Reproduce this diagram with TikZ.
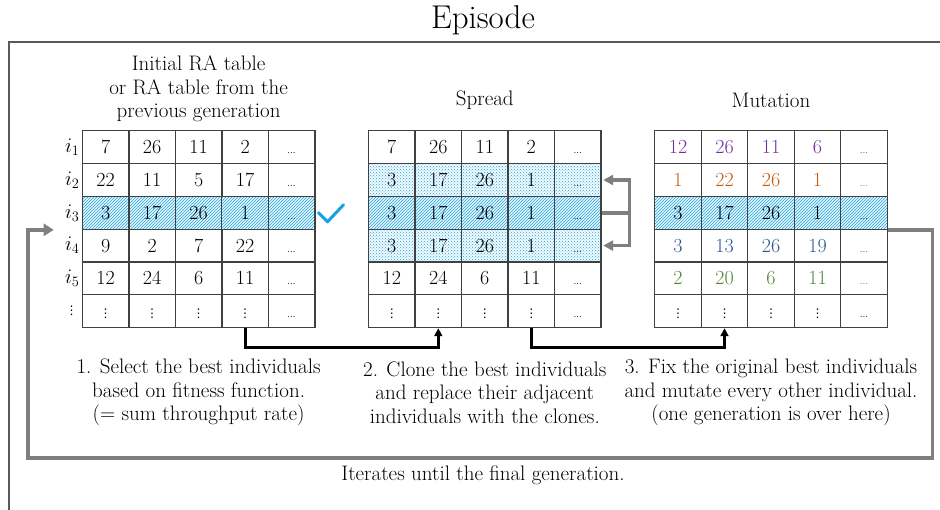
\documentclass[tikz,border=0pt]{standalone}
\usepackage{amsmath,amssymb}
\usepackage{fontspec}
\usepackage{tikz}
\usetikzlibrary{matrix,positioning,patterns,arrows.meta,calc}

\newfontfamily\symfont{DejaVu Sans}

\definecolor{frameGray}{HTML}{595959}
\definecolor{loopGray}{HTML}{7F7F7F}
\definecolor{cellLine}{HTML}{404040}
\definecolor{hatchBlue}{HTML}{1FA7E0}
\definecolor{tickBlue}{HTML}{17A2E8}
\definecolor{mutPurple}{HTML}{7030A0}
\definecolor{mutOrange}{HTML}{C55A11}
\definecolor{mutBlue}{HTML}{2F5597}
\definecolor{mutGreen}{HTML}{548235}

\newcommand{\tabfont}{\fontsize{20}{20}\selectfont}
\newcommand{\txtfont}{\fontsize{21}{23.5}\selectfont}
\newcommand{\moredots}{{\fontsize{10}{10}\selectfont ...}}
\newcommand{\downdots}{{\symfont\fontsize{12}{12}\selectfont ⋮}}

\begin{document}
\begin{tikzpicture}[x=1pt, y=-1pt,
    ratable/.style={matrix of nodes, inner sep=0pt,
      column sep=-1.3pt, row sep=-1.3pt,
      nodes={draw=cellLine, line width=1.3pt, minimum width=46.5pt,
        minimum height=32.8pt, text height=13pt, text depth=0pt,
        inner sep=0pt, anchor=center, font=\tabfont}},
    best/.style={nodes={preaction={fill=hatchBlue!10},
        pattern=north east lines, pattern color=hatchBlue}},
    clone/.style={nodes={preaction={fill=hatchBlue!6},
        pattern=crosshatch dots, pattern color=hatchBlue}},
    rowlab/.style={font=\tabfont, inner sep=1pt},
    caption/.style={font=\txtfont, align=center},
    flow/.style={line width=2.8pt, -{Triangle[length=8pt,width=8pt]}},
    fork/.style={line width=3.5pt, draw=loopGray},
    loopline/.style={line width=3.5pt, draw=loopGray,
      -{Triangle[length=10pt,width=12pt]}},
    episode/.style={line width=2pt, draw=frameGray}]

  \useasboundingbox (0,0) rectangle (940,510);

  % episode frame and title
  \draw[episode] (9,510) -- (9,42) -- (940,42);
  \node[font=\fontsize{33}{38}\selectfont] (title) at (483,20) {Episode};

  % the three RA tables
  \matrix (tA) [ratable, row 3/.style={best}] at (198.6,229.2) {
    7 & 26 & 11 & 2 & \moredots \\
    22 & 11 & 5 & 17 & \moredots \\
    3 & 17 & 26 & 1 & \moredots \\
    9 & 2 & 7 & 22 & \moredots \\
    12 & 24 & 6 & 11 & \moredots \\
    \downdots & \downdots & \downdots & \downdots & \moredots \\
  };
  \matrix (tB) [ratable, right=52pt of tA,
      row 2/.style={clone}, row 3/.style={best}, row 4/.style={clone}] {
    7 & 26 & 11 & 2 & \moredots \\
    3 & 17 & 26 & 1 & \moredots \\
    3 & 17 & 26 & 1 & \moredots \\
    3 & 17 & 26 & 1 & \moredots \\
    12 & 24 & 6 & 11 & \moredots \\
    \downdots & \downdots & \downdots & \downdots & \moredots \\
  };
  \matrix (tC) [ratable, right=52pt of tB,
      row 1/.style={nodes={text=mutPurple}},
      row 2/.style={nodes={text=mutOrange}},
      row 3/.style={best},
      row 4/.style={nodes={text=mutBlue}},
      row 5/.style={nodes={text=mutGreen}}] {
    12 & 26 & 11 & 6 & \moredots \\
    1 & 22 & 26 & 1 & \moredots \\
    3 & 17 & 26 & 1 & \moredots \\
    3 & 13 & 26 & 19 & \moredots \\
    2 & 20 & 6 & 11 & \moredots \\
    \downdots & \downdots & \downdots & \downdots & \moredots \\
  };

  % individual labels
  \foreach \r in {1,...,5}
    \node[rowlab, left=1pt of tA-\r-1] (lA\r) {$i_\r$};
  \node[rowlab, left=3pt of tA-6-1] (lA6) {\downdots};

  % best individual tick
  \draw[tickBlue, line width=3pt, line cap=round, line join=round]
    ($(tA-3-5.east)+(3,0)$) -- ++(9,9) -- ++(16,-17);

  % headings
  \node[caption] (headA) at ($(tA.north)+(0,-41)$)
    {Initial RA table\\or RA table from the\\previous generation};
  \node[caption] (headB) at ($(tB.north)+(0,-30)$) {Spread};
  \node[caption] (headC) at ($(tC.north)+(0,-30)$) {Mutation};

  % clone the best row onto its neighbours
  \draw[fork] (tB-3-5.east) -- ++(28,0) coordinate (forkC);
  \draw[fork, -{Triangle[length=10pt,width=10pt]}, shorten >=1.5pt]
    (forkC) |- (tB-2-5.east);
  \draw[fork, -{Triangle[length=10pt,width=10pt]}, shorten >=1.5pt]
    (forkC) |- (tB-4-5.east);

  % step arrows between tables
  \draw[flow] (tA-6-4.south) -- ++(0,19) -| (tB-6-2.south);
  \draw[flow] (tB-6-4.south) -- ++(0,19) -| (tC-6-2.south);

  % step captions
  \node[caption] (capA) at ($(tA.south)+(0,64)$)
    {1. Select the best individuals\\based on fitness function.\\(= sum throughput rate)};
  \node[caption] (capB) at ($(tB.south)+(0,64)$)
    {2. Clone the best individuals\\and replace their adjacent\\individuals with the clones.};
  \node[caption] (capC) at ($(tC.south)+(0,64)$)
    {3. Fix the original best individuals\\and mutate every other individual.\\(one generation is over here)};

  % back to the first table
  \coordinate (loopR) at (932.7,458);
  \coordinate (loopL) at (28,458);
  \draw[loopline, shorten >=28pt]
    (tC-3-5.south east) -| (loopR) -- (loopL) |- (tA-3-1.south west);
  \node[caption] (iter) at (483,475) {Iterates until the final generation.};

\end{tikzpicture}
\end{document}
